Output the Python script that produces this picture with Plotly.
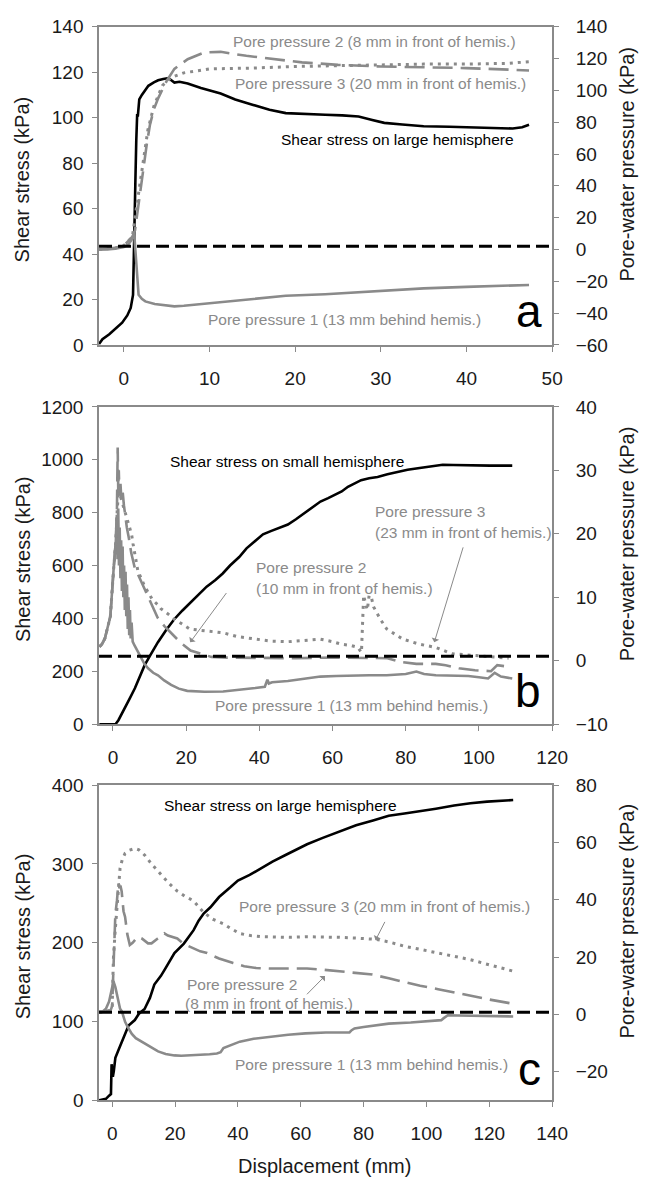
import plotly.graph_objects as go

W, H = 654, 1191
GRAY = "#8a8a8a"
FONT = "Liberation Sans, Arial, sans-serif"
NARROW = "Liberation Sans Narrow, Arial Narrow, Liberation Sans, sans-serif"

# ---------------- Panel a ----------------
A_SHEAR_X = [-2.9, -2.5, -1.7, -1.0, -0.2, 0.4, 0.8, 1.07, 1.2, 1.34, 1.45, 1.55, 1.64, 1.8, 2.1, 2.5,
             2.86, 3.5, 4.0, 4.6, 5.2, 5.9, 6.5, 7.45, 9, 11.3, 13, 15.1, 17, 18.9, 21, 23.5, 25.5,
             27.4, 29, 30.4, 32.5, 35, 38, 40.8, 43, 45.4, 46.5, 47.3]
A_SHEAR = [0.4, 2.5, 4.7, 7.2, 9.8, 13, 16.3, 22, 40, 71, 90, 101, 101, 108, 110, 112,
           114, 115.5, 116.4, 117, 117.4, 115.4, 115.8, 115, 113, 110.6, 108, 105.6, 103.5, 102, 101.8, 101.3, 101,
           100.5, 99, 97.7, 97, 96.2, 96, 95.8, 95.6, 95.2, 95.8, 96.9]
A_PP1_X = [-2.9, -2, -1, 0, 0.5, 0.9, 1.2, 1.34, 1.5, 1.72, 2.1, 2.5, 3.6, 5, 5.9, 7, 8.2, 10, 13.2,
           16, 18.9, 23.5, 28, 35, 40, 44, 47.3]
A_PP1 = [0, 0, 0.5, 1.5, 3, 6, 10.5, -2, -12, -28.5, -31, -32.6, -34.3, -35.2, -35.7, -35.3, -34.7, -33.6, -32.2,
         -30.5, -29.1, -28.1, -26.8, -24.4, -23.5, -23, -22.3]
A_PP2_X = [-2.9, -2, -1, 0, 0.5, 1.0, 1.3, 1.72, 2.2, 2.67, 3.05, 3.5, 4.0, 5, 5.9, 7.45, 9.4, 11.3,
           14.3, 17.4, 20.8, 25, 30, 35, 40, 45, 47.3]
A_PP2 = [0, 0.3, 1, 2.5, 5, 8, 12, 29, 50, 66, 78.5, 88, 95, 106, 113.5, 119.6, 123.8, 124.2,
         121.7, 119.6, 117.6, 116, 115, 114.5, 114, 113, 112.5]
A_PP3_X = [-2.9, -2, -1, 0, 0.5, 1.0, 1.3, 2.0, 2.8, 3.5, 4.5, 5.5, 7, 10, 15, 20, 25, 30, 35, 40, 45, 47.3]
A_PP3 = [0, 0.3, 1, 2.5, 5, 8, 20, 45, 75, 90, 103, 108, 111, 113.5, 114, 115, 115.5, 116, 116.5, 116.5, 117, 118]
A_ZERO = 2.0

# ---------------- Panel b ----------------
B_SHEAR_X = [-3.7, -2, -0.5, 0.7, 1.5, 2.5, 3.4, 4.5, 6.0, 7.3, 8.7, 10.5, 12.3, 14.5, 16.7, 19, 21.2, 23.5,
             25.6, 28, 30.0, 32, 34.5, 36.5, 38.9, 41, 43.3, 45.5, 47.8, 50, 52.3, 54.5, 56.7, 58.8, 60.7,
             62.5, 64.2, 66, 67.8, 70, 72.3, 75, 77.6, 80.5, 83.8, 87, 90.1, 93, 97.3, 103, 109.1]
B_SHEAR = [0, 0, 0, 0, 15, 40, 62, 95, 136, 180, 224, 268, 310, 355, 396, 430, 459, 490,
           520, 545, 570, 600, 632, 665, 694, 718, 731, 742, 755, 775, 799, 820, 842, 855, 867,
           880, 898, 912, 923, 930, 935, 945, 954, 962, 969, 976, 981, 980, 978, 978, 978]
B_PP1_X = [-3.7, -3, -2.2, -1.5, -0.7, 0.16, 0.8, 1.07, 1.25, 1.45, 1.65, 1.85, 2.05, 2.25, 2.45, 2.65,
           2.85, 3.05, 3.25, 3.45, 3.65, 3.85, 4.05, 4.25, 4.45, 4.65, 4.85, 5.1, 5.4, 5.9, 6.9, 7.7,
           8.6, 9.6, 11, 12.3, 14, 15.9, 18, 20.3, 25, 30.1, 35, 38.9, 41.5, 42.2, 42.6, 43.5, 47.8,
           52, 56.7, 61, 66, 70, 74.8, 80, 82.9, 85, 88.2, 92, 97.1, 100, 102.5, 104.3, 106, 109.1]
B_PP1 = [2.2, 2.6, 3.5, 5, 7, 14.2, 18.9, 23, 16, 24, 15, 21, 13, 19, 11, 18,
         10, 15, 8, 14, 7, 12, 5, 10, 4, 8, 3.5, 6, 3, 2.4, 1.3, 0.3,
         -0.5, -1.2, -1.9, -2.3, -3.1, -3.8, -4.4, -4.75, -4.9, -4.85, -4.6, -4.3, -4.1, -3.0, -3.6, -3.4, -3.2,
         -2.9, -2.5, -2.4, -2.3, -2.3, -2.3, -2.1, -1.7, -2.1, -2.3, -2.3, -2.4, -2.6, -2.8, -1.9, -2.5, -2.8]
B_PP2_X = [-3.7, -3, -2.2, -1.5, -0.7, 0.16, 0.8, 1.1, 1.3, 1.45, 1.6, 1.8, 2.0, 2.3, 2.6, 3.0, 3.4, 3.8,
           4.3, 5.0, 5.9, 6.9, 8.0, 10.3, 12.2, 14, 15.9, 18.4, 21.2, 23.9, 26.9, 30, 40, 50, 60, 70,
           75, 78.6, 82.9, 88.2, 90.9, 94.5, 98.9, 103.3, 105, 108.6]
B_PP2 = [2.2, 2.6, 3.5, 5, 7, 14.2, 19, 24, 33.6, 27, 30, 26, 28.5, 25.5, 27, 24.5, 22.5, 21,
         19.5, 17, 14.8, 13.5, 12, 9.1, 6.8, 5.5, 4.4, 2.9, 1.6, 1.1, 0.6, 0.5, 0.4, 0.4, 0.5, 0.5,
         0.4, -0.2, -0.5, -0.5, -0.7, -1.2, -1.5, -1.65, -0.7, -1.0]
B_PP3_X = [-3.7, -3, -2.2, -1.5, -0.7, 0.16, 0.8, 1.2, 1.6, 2.0, 2.5, 3.0, 3.4, 4.2, 5.1, 5.5, 6.8, 8.6,
           9.6, 10.8, 12.3, 13.1, 15.9, 16.6, 19.4, 21, 23.9, 30.1, 34, 38.9, 43, 47.8, 52, 56.7, 60,
           62.4, 65, 66.9, 67.9, 68.2, 68.5, 69.0, 69.5, 70.0, 70.6, 71.2, 73, 74.8, 77, 79.2, 83.7,
           88.2, 92.6, 97.1, 101.5, 105, 108.1]
B_PP3 = [2.2, 2.6, 3.5, 5, 7, 14.2, 19, 24, 27, 26, 25, 24, 23, 21.5, 19.9, 18.4, 14.2, 11.8,
         10.8, 9.6, 8.8, 8.2, 7.0, 6.6, 5.6, 5.0, 4.8, 4.4, 3.8, 3.4, 3.1, 3.0, 3.2, 3.4, 3.0,
         2.6, 2.4, 2.1, 1.3, 8.0, 10.3, 9.0, 8.0, 10.3, 10.0, 8.5, 6.6, 5.0, 4.2, 3.4, 2.6,
         2.1, 1.1, 0.9, 0.7, 0.5, 0.4]
B_ZERO = 0.7

# ---------------- Panel c ----------------
C_SHEAR_X = [-4.2, -2, -1, -0.4, -0.2, 0.2, 0.5, 1.0, 2, 3.1, 4.2, 5.2, 7.2, 8.5, 10.3, 12, 13.4, 15.5,
             16.7, 18.6, 19.8, 22.8, 25.9, 27.5, 29.1, 31.25, 34, 37.5, 40, 43.75, 47, 51, 55, 58.3,
             62, 67, 72, 77.6, 83, 88, 93, 98.4, 103, 108.8, 114, 119.3, 124, 127.6]
C_SHEAR = [0, 2, 6, 8, 46, 30, 37, 54, 64, 75, 85, 95, 102, 110, 116, 130, 147, 158,
           166, 179, 187, 199, 216, 228, 237, 245, 258, 270, 279, 286, 294, 303, 311, 318,
           325, 333, 341, 349, 355, 361, 364, 367, 370, 374, 377, 379, 380, 381]
C_PP1_X = [-4.2, -3, -2, -1, -0.3, 0.4, 1.0, 1.8, 2.5, 3.1, 4.1, 5, 6.25, 7.5, 9.4, 12, 14.6, 17, 19.8,
           22, 25, 28, 31, 33.3, 34.5, 35.4, 37, 40.6, 45, 51, 56, 61.5, 68, 74, 75.5, 76.2, 77.1,
           80, 88, 95, 100, 104.7, 105.5, 106.8, 110, 120, 127.6]
C_PP1 = [0.8, 1.0, 2, 4.5, 8, 11.5, 9.5, 5, 2, 1, -2.6, -4.5, -6.8, -8.3, -9.5, -11.4, -12.9, -13.8, -14.3,
         -14.4, -14.3, -14.1, -13.9, -13.6, -13.2, -11.7, -11, -9.5, -8.5, -7.7, -7.1, -6.6, -6.3, -6.3, -6.3,
         -5.5, -4.9, -4.4, -3.2, -2.8, -2.5, -2.0, -1.3, -0.3, -0.4, -0.5, -0.7]
C_PP2_X = [-4.2, -2, -0.5, 0, 0.2, 0.6, 1.0, 1.5, 2.0, 2.3, 2.6, 3.0, 3.3, 3.6, 4.1, 4.8, 5.6, 6.5, 8.2,
           9.4, 11.4, 12.5, 14.5, 16.6, 17.7, 20.7, 22.9, 25, 28, 30.2, 34, 38.5, 42, 45.8, 50, 56.25,
           62, 67.2, 72, 77, 82.8, 88, 93.3, 98, 103.7, 109, 114, 120, 127.6]
C_PP2 = [0.8, 1.0, 1.5, 3, 10, 25, 35, 39.6, 45.9, 44, 45, 43, 40, 36, 34, 28, 24.2, 25, 27.1,
         26.5, 24.8, 24.8, 26.5, 28.3, 27.5, 26.5, 24.5, 23.5, 22, 21.4, 19.5, 17.9, 16.8, 16.2, 16, 16,
         16, 15.6, 15.1, 14.7, 13.9, 12.6, 11.1, 10, 8.8, 7.6, 6.5, 5.2, 3.7]
C_PP3_X = [-4.2, -2, -0.5, 0, 0.1, 0.4, 1.0, 1.5, 2.0, 2.5, 3.2, 4.1, 5.5, 7.2, 8.5, 10.3, 12.5, 15.5, 18,
           20.7, 23, 25.9, 29.1, 32, 35.4, 38, 40.6, 44, 47.9, 52, 56.25, 62, 67.2, 72, 78, 83.85,
           88, 93.3, 98, 103.7, 109, 114, 120, 127.6]
C_PP3 = [0.8, 1.0, 1.5, 2, 8, 20, 30, 37, 45, 51, 54, 56.2, 57.3, 57.9, 57.4, 55.6, 52.5, 48.8, 45.8,
         43, 41.3, 39.6, 35.6, 33.2, 31.6, 29.8, 28.2, 27.5, 27.1, 27, 26.9, 27.1, 27.1, 26.9, 26.6, 26.2,
         25.3, 23.7, 22.7, 21.4, 20.3, 19.1, 17.3, 15.1]
C_ZERO = 0.8

# ---------------- layout geometry (pixels) ----------------
X0, X1 = 101.5, 566
PANELS = [(17, 341), (404, 727), (789, 1110)]  # (top px, bottom px)
X_RANGES = [[-2.9, 50], [-3.8, 120], [-4.2, 140]]
YL_RANGES = [[0, 140], [0, 1200], [0, 400]]
YL_DTICK = [20, 200, 100]
YR_RANGES = [[-60, 140], [-10, 40], [-30, 80]]
YR_DTICK = [20, 10, 20]


def px(x, y):
    return x / W, 1 - y / H


fig = go.Figure()

panel_data = [
    (A_SHEAR_X, A_SHEAR, A_PP1_X, A_PP1, A_PP2_X, A_PP2, A_PP3_X, A_PP3, A_ZERO),
    (B_SHEAR_X, B_SHEAR, B_PP1_X, B_PP1, B_PP2_X, B_PP2, B_PP3_X, B_PP3, B_ZERO),
    (C_SHEAR_X, C_SHEAR, C_PP1_X, C_PP1, C_PP2_X, C_PP2, C_PP3_X, C_PP3, C_ZERO),
]

axis_font = dict(family=FONT, size=19, color="#1a1a1a")
layout = {}
for i, (sx, sy, p1x, p1, p2x, p2, p3x, p3, zero) in enumerate(panel_data):
    xa = "x" if i == 0 else f"x{i+1}"
    yl = "y" if i == 0 else f"y{2*i+1}"
    yr = f"y{2*i+2}"
    fig.add_trace(go.Scatter(x=p1x, y=p1, mode="lines", xaxis=xa, yaxis=yr,
                             line=dict(color=GRAY, width=2.6)))
    fig.add_trace(go.Scatter(x=p2x, y=p2, mode="lines", xaxis=xa, yaxis=yr,
                             line=dict(color=GRAY, width=2.6, dash="20px,8px")))
    fig.add_trace(go.Scatter(x=p3x, y=p3, mode="lines", xaxis=xa, yaxis=yr,
                             line=dict(color=GRAY, width=3, dash="3px,5px")))
    fig.add_trace(go.Scatter(x=X_RANGES[i], y=[zero, zero], mode="lines", xaxis=xa, yaxis=yr,
                             line=dict(color="black", width=3, dash="13px,6px")))
    fig.add_trace(go.Scatter(x=sx, y=sy, mode="lines", xaxis=xa, yaxis=yl,
                             line=dict(color="black", width=2.6)))

    top, bot = PANELS[i]
    dom_y = [1 - bot / H, 1 - top / H]
    xkey = "xaxis" if i == 0 else f"xaxis{i+1}"
    ylkey = "yaxis" if i == 0 else f"yaxis{2*i+1}"
    yrkey = f"yaxis{2*i+2}"
    common = dict(showgrid=False, zeroline=False, showline=True, linecolor=GRAY, linewidth=1.5,
                  ticks="outside", ticklen=5, tickwidth=1.2, tickcolor=GRAY, tickfont=axis_font)
    layout[xkey] = dict(domain=[X0 / W, X1 / W], anchor=yl, range=X_RANGES[i], dtick=20 if i else 10,
                        tick0=0, mirror=True, ticklabelstandoff=10, **common)
    layout[ylkey] = dict(domain=dom_y, anchor=xa, range=YL_RANGES[i], dtick=YL_DTICK[i], tick0=0,
                         ticklabelstandoff=5, **common)
    layout[yrkey] = dict(domain=dom_y, anchor=xa, overlaying=yl, side="right", range=YR_RANGES[i],
                         dtick=YR_DTICK[i], tick0=0, ticklabelstandoff=13, **common)

annotations = []


def text(t, x, y, color=GRAY, size=15.5, xanchor="center"):
    xp, yp = px(x, y)
    annotations.append(dict(text=t, x=xp, y=yp, xref="paper", yref="paper", xanchor=xanchor,
                            yanchor="middle", showarrow=False,
                            font=dict(family=FONT, size=size, color=color)))


def arrow(xa, ya, x_head, y_head, x_tail, y_tail):
    annotations.append(dict(text="", x=x_head, y=y_head, ax=x_tail, ay=y_tail, xref=xa, yref=ya,
                            axref=xa, ayref=ya, showarrow=True, arrowhead=1, arrowsize=1.3,
                            arrowwidth=1, arrowcolor=GRAY))


# panel a
text("Pore pressure 2 (8 mm in front of hemis.)", 384, 32)
text("Pore pressure 3 (20 mm in front of hemis.)", 390, 75)
text("Shear stress on large hemisphere", 407, 132, color="black")
text("Pore pressure 1 (13 mm behind hemis.)", 353, 315)
text("a", 542, 306, color="black", size=46)
# panel b
text("Shear stress on small hemisphere", 294, 460, color="black")
text("Pore pressure 3", 382, 510, xanchor="left")
text("(23 mm in front of hemis.)", 382, 532, xanchor="left")
text("Pore pressure 2", 260, 567, xanchor="left")
text("(10 mm in front of hemis.)", 260, 589, xanchor="left")
text("Pore pressure 1 (13 mm behind hemis.)", 360, 708)
text("b", 541, 693, color="black", size=46)
arrow("x2", "y4", 21.1, 2.9, 31.3, 10.9)
arrow("x2", "y4", 87.8, 2.9, 95.8, 18.1)
# panel c
text("Shear stress on large hemisphere", 287.5, 810, color="black")
text("Pore pressure 3 (20 mm in front of hemis.)", 394, 913)
text("Pore pressure 2", 190, 992, xanchor="left")
text("(8 mm in front of hemis.)", 188, 1011, xanchor="left")
text("Pore pressure 1 (13 mm behind hemis.)", 381, 1073)
text("c", 542.5, 1078, color="black", size=46)
arrow("x3", "y6", 83.8, 25.9, 87.0, 32.8)
arrow("x3", "y6", 67.7, 13.4, 61.5, 6.5)

# axis titles
for top, bot in PANELS:
    cy = (top + bot) / 2
    xp, yp = px(23, cy - 7)
    annotations.append(dict(text="Shear stress (kPa)", x=xp, y=yp, xref="paper", yref="paper",
                            textangle=-90, showarrow=False, xanchor="center", yanchor="middle",
                            font=dict(family=FONT, size=20, color="#1a1a1a")))
    xp, yp = px(643, cy - 22)
    annotations.append(dict(text="Pore-water pressure (kPa)", x=xp, y=yp, xref="paper", yref="paper",
                            textangle=-90, showarrow=False, xanchor="center", yanchor="middle",
                            font=dict(family=NARROW, size=20, color="#1a1a1a")))
xp, yp = px(333, 1177)
annotations.append(dict(text="Displacement (mm)", x=xp, y=yp, xref="paper", yref="paper",
                        showarrow=False, xanchor="center", yanchor="middle",
                        font=dict(family=FONT, size=20, color="#1a1a1a")))

fig.update_layout(width=W, height=H, margin=dict(l=0, r=0, t=0, b=0), showlegend=False,
                  plot_bgcolor="white", paper_bgcolor="white", annotations=annotations, **layout)

fig.write_html("out.html", config={"displayModeBar": False},
               post_script="document.body.style.margin='0';document.body.style.overflow='hidden';")
